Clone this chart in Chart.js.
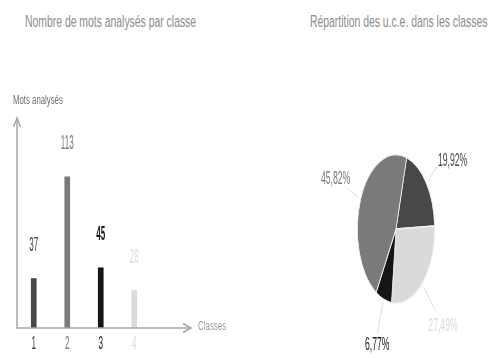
<!DOCTYPE html>
<html>
<head>
<meta charset="utf-8">
<script src="https://cdn.jsdelivr.net/npm/chart.js@4.4.1/dist/chart.umd.min.js"></script>
<style>
  html, body { margin: 0; padding: 0; background: #fff; }
  body { width: 497px; height: 358px; position: relative; overflow: hidden;
         font-family: 'Liberation Sans', Arial, sans-serif; }
  .title { position: absolute; top: 14px; font-size: 16px; line-height: 16px; color: #8c8c8c;
           white-space: nowrap; transform: scaleX(0.65); transform-origin: 0 0; }
  #bar-wrap { position: absolute; left: 0; top: 0; width: 250px; height: 358px; }
  #pie-wrap { position: absolute; left: 250px; top: 0; width: 247px; height: 358px; }
</style>
</head>
<body>
<div class="title" style="left:25px">Nombre de mots analysés par classe</div>
<div class="title" style="left:310px">Répartition des u.c.e. dans les classes</div>
<div id="bar-wrap"><canvas id="barChart"></canvas></div>
<div id="pie-wrap"><canvas id="pieChart"></canvas></div>
<script>
const classes = ['1', '2', '3', '4'];
const wordCounts = [37, 113, 45, 28];
const uceShares = [19.92, 45.82, 6.77, 27.49];   // by class 1..4
const pieOrder = [0, 3, 2, 1];                    // slices clockwise from the top
const classColors = ['#484848', '#7a7a7a', '#151515', '#dadada'];

const FONT = "'Liberation Sans', Arial, sans-serif";
const AXIS_COLOR = '#a8a8a8';

// the source image is squeezed sideways, so text is drawn narrowed
function narrowText(ctx, text, x, y, sx) {
    ctx.save();
    ctx.translate(x, y);
    ctx.scale(sx, 1);
    ctx.fillText(text, 0, 0);
    ctx.restore();
}

function arrowHead(ctx, x, y, dir) {
    ctx.beginPath();
    if (dir === 'up') {
        ctx.moveTo(x - 3.5, y + 9); ctx.lineTo(x, y); ctx.lineTo(x + 3.5, y + 9);
    } else {
        ctx.moveTo(x - 8, y - 4.5); ctx.lineTo(x, y); ctx.lineTo(x - 8, y + 4.5);
    }
    ctx.stroke();
}

// axes with arrows, axis names, tick labels, value labels above bars
const barDecor = {
    id: 'barDecor',
    afterDatasetsDraw(chart) {
        const ctx = chart.ctx;
        const area = chart.chartArea;
        const xScale = chart.scales.x;
        ctx.save();
        ctx.strokeStyle = AXIS_COLOR;
        ctx.lineWidth = 1.5;
        ctx.beginPath();
        ctx.moveTo(area.left, area.top);
        ctx.lineTo(area.left, area.bottom);
        ctx.lineTo(area.right + 40, area.bottom);
        ctx.stroke();
        arrowHead(ctx, area.left, area.top, 'up');
        arrowHead(ctx, area.right + 40, area.bottom, 'right');

        ctx.textBaseline = 'middle';
        ctx.textAlign = 'left';
        ctx.font = '12px ' + FONT;
        ctx.fillStyle = '#707070';
        narrowText(ctx, 'Mots analysés', area.left - 4, area.top - 17, 0.65);
        ctx.fillStyle = '#9a9a9a';
        narrowText(ctx, 'Classes', area.right + 47, area.bottom - 1, 0.66);

        ctx.textAlign = 'center';
        ctx.font = '18px ' + FONT;
        xScale.ticks.forEach((t, i) => {
            ctx.fillStyle = classColors[i];
            narrowText(ctx, xScale.getLabelForValue(t.value), xScale.getPixelForTick(i), area.bottom + 16, 0.45);
        });

        const meta = chart.getDatasetMeta(0);
        meta.data.forEach((bar, i) => {
            ctx.font = (i === 2 ? 'bold ' : '') + '20px ' + FONT;
            ctx.fillStyle = classColors[i];
            narrowText(ctx, String(wordCounts[i]), bar.x, bar.y - 33, 0.4);
        });
        ctx.restore();
    }
};

new Chart(document.getElementById('barChart'), {
    type: 'bar',
    data: {
        labels: classes,
        datasets: [{
            data: wordCounts,
            backgroundColor: classColors,
            barThickness: 5
        }]
    },
    options: {
        responsive: true,
        maintainAspectRatio: false,
        animation: false,
        layout: { padding: { left: 17, right: 99, top: 118, bottom: 30 } },
        plugins: { legend: { display: false }, tooltip: { enabled: false } },
        scales: {
            y: { display: false, min: 0, max: 157 },
            x: {
                grid: { display: false, drawTicks: false },
                border: { display: false },
                ticks: { display: false }
            }
        }
    },
    plugins: [barDecor]
});

// squeeze the pie horizontally into an ellipse, then add leader-line labels
const PIE_SQUEEZE = 0.52;
const pieLabels = pieOrder.map(i => uceShares[i].toFixed(2).replace('.', ',') + '%');
const pieColors = pieOrder.map(i => classColors[i]);

const pieDecor = {
    id: 'pieDecor',
    beforeDatasetsDraw(chart) {
        const ctx = chart.ctx;
        const arc = chart.getDatasetMeta(0).data[0];
        ctx.save();
        ctx.translate(arc.x, 0);
        ctx.scale(PIE_SQUEEZE, 1);
        ctx.translate(-arc.x, 0);
    },
    afterDatasetsDraw(chart) {
        const ctx = chart.ctx;
        ctx.restore();
        ctx.save();
        const arcs = chart.getDatasetMeta(0).data;
        arcs.forEach((arc, i) => {
            const a = (arc.startAngle + arc.endAngle) / 2;
            const r = arc.outerRadius;
            const ex = Math.cos(a) * r * PIE_SQUEEZE, ey = Math.sin(a) * r;
            const below = Math.sin(a) > 0;
            const right = Math.cos(a) >= 0;
            const k = below ? 1.5 : 1.35;
            const x0 = arc.x + ex * 1.05, y0 = arc.y + ey * 1.05;
            const x1 = arc.x + ex * k, y1 = arc.y + ey * k;
            ctx.strokeStyle = '#dedede';
            ctx.lineWidth = 1;
            ctx.beginPath();
            ctx.moveTo(x0, y0);
            ctx.lineTo(x1, y1);
            ctx.stroke();

            ctx.font = '18px ' + FONT;
            ctx.fillStyle = pieColors[i];
            ctx.textAlign = 'left';
            ctx.textBaseline = below ? 'top' : 'bottom';
            const tw = ctx.measureText(pieLabels[i]).width * 0.48;
            let left, ty;
            if (Math.abs(Math.cos(a)) < 0.35) {
                left = x1 - tw / 2;
            } else if (right) {
                left = below ? x1 - 7 : x1 + 1;
            } else {
                left = x1 + 2 - tw;
            }
            if (below) ty = y1 + (right ? 6 : 2);
            else ty = y1 + (right ? 3 : -1);
            narrowText(ctx, pieLabels[i], left, ty, 0.48);
        });
        ctx.restore();
    }
};

new Chart(document.getElementById('pieChart'), {
    type: 'pie',
    data: {
        labels: pieOrder.map(i => 'Classe ' + classes[i]),
        datasets: [{
            data: pieOrder.map(i => uceShares[i]),
            backgroundColor: pieColors,
            borderColor: '#f2f2f2',
            borderWidth: 1.5
        }]
    },
    options: {
        responsive: true,
        maintainAspectRatio: false,
        animation: false,
        rotation: 16,
        layout: { padding: { left: 71, right: 26, top: 154, bottom: 54 } },
        plugins: { legend: { display: false }, tooltip: { enabled: false } }
    },
    plugins: [pieDecor]
});
</script>
</body>
</html>
